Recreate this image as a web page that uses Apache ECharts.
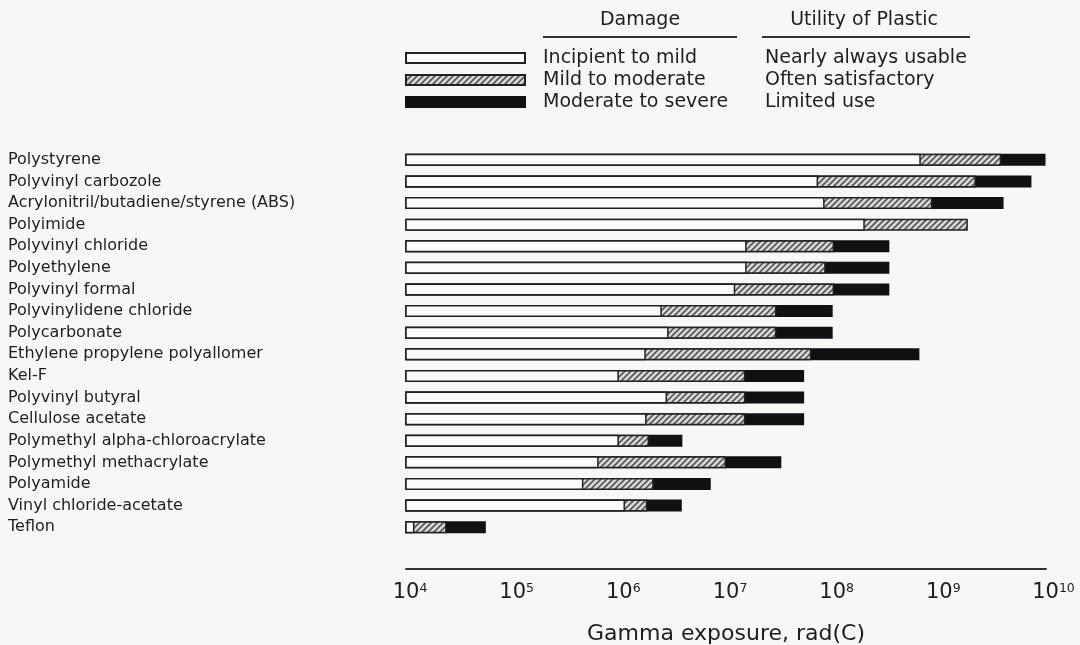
<!DOCTYPE html>
<html>
<head>
<meta charset="utf-8">
<script src="https://cdn.jsdelivr.net/npm/echarts@6/dist/echarts.min.js"></script>
<style>
html,body{margin:0;padding:0;background:#f7f7f5;}
#chart{width:1080px;height:645px;}
</style>
</head>
<body>
<div id="chart"></div>
<script>
// ---------- data ----------
const categories = [
  'Polystyrene',
  'Polyvinyl carbozole',
  'Acrylonitril/butadiene/styrene (ABS)',
  'Polyimide',
  'Polyvinyl chloride',
  'Polyethylene',
  'Polyvinyl formal',
  'Polyvinylidene chloride',
  'Polycarbonate',
  'Ethylene propylene polyallomer',
  'Kel-F',
  'Polyvinyl butyral',
  'Cellulose acetate',
  'Polymethyl alpha-chloroacrylate',
  'Polymethyl methacrylate',
  'Polyamide',
  'Vinyl chloride-acetate',
  'Teflon'
];
// exposure (rad) at which each damage band ends
const mildEnd     = [6.7e8, 7.3e7, 8.4e7, 2.0e8, 1.56e7, 1.56e7, 1.22e7, 2.5e6, 2.9e6, 1.77e6, 9.9e5, 2.8e6, 1.8e6, 9.9e5, 6.4e5, 4.6e5, 1.13e6, 1.2e4];
const moderateEnd = [3.8e9, 2.2e9, 8.6e8, 1.85e9, 1.03e8, 8.6e7, 1.03e8, 2.97e7, 2.97e7, 6.3e7, 1.52e7, 1.52e7, 1.52e7, 1.9e6, 1.0e7, 2.1e6, 1.83e6, 2.4e4];
const severeEnd   = [9.9e9, 7.3e9, 4.0e9, null, 3.4e8, 3.4e8, 3.4e8, 1.0e8, 1.0e8, 6.5e8, 5.4e7, 5.4e7, 5.4e7, 3.9e6, 3.3e7, 7.2e6, 3.85e6, 5.6e4];
const damageNames  = ['Incipient to mild', 'Mild to moderate', 'Moderate to severe'];
const utilityNames = ['Nearly always usable', 'Often satisfactory', 'Limited use'];
const headerDamage = 'Damage';
const headerUtility = 'Utility of Plastic';
const axisTitle = 'Gamma exposure, rad(C)';
const axisMin = 1e4, axisMax = 1e10;

// ---------- hatch pattern ----------
function makeHatch() {
  const c = document.createElement('canvas');
  c.width = 6; c.height = 6;
  const g = c.getContext('2d');
  g.fillStyle = '#d9d9d6';
  g.fillRect(0, 0, 6, 6);
  g.strokeStyle = '#555';
  g.lineWidth = 1.6;
  g.beginPath();
  g.moveTo(0, 6); g.lineTo(6, 0);
  g.moveTo(-1, 1); g.lineTo(1, -1);
  g.moveTo(5, 7); g.lineTo(7, 5);
  g.stroke();
  return c;
}
const hatch = { image: makeHatch(), repeat: 'repeat' };

const FONT = 'DejaVu Sans';
const TXT = '#1e1e1e';

const chart = echarts.init(document.getElementById('chart'), null, { renderer: 'canvas' });

const barCommon = {
  type: 'bar',
  barWidth: 12,
  barGap: '-100%',
  animation: false,
  silent: true
};

chart.setOption({
  backgroundColor: '#f7f7f5',
  animation: false,
  textStyle: { fontFamily: FONT, color: TXT },
  grid: { left: 406, right: 34, top: 149, height: 389, containLabel: false, outerBoundsMode: 'none' },
  legend: {
    orient: 'vertical',
    left: 405,
    top: 47,
    padding: 0,
    itemWidth: 119,
    itemHeight: 10,
    itemGap: 0,
    selectedMode: false,
    icon: 'rect',
    data: damageNames,
    formatter: function (name) {
      const i = damageNames.indexOf(name);
      return '{a|' + name + '}{b|' + utilityNames[i] + '}';
    },
    textStyle: {
      fontFamily: FONT,
      fontSize: 19,
      color: TXT,
      lineHeight: 22,
      rich: {
        a: { fontFamily: FONT, fontSize: 19, color: TXT, width: 222, padding: [0, 0, 0, 13], lineHeight: 22 },
        b: { fontFamily: FONT, fontSize: 19, color: TXT, lineHeight: 22 }
      }
    }
  },
  xAxis: {
    type: 'log',
    logBase: 10,
    min: axisMin,
    max: axisMax,
    interval: 1,
    offset: 31,
    axisLine: { show: true, lineStyle: { color: '#333', width: 2 } },
    axisTick: { show: false },
    splitLine: { show: false },
    axisLabel: {
      margin: 13,
      formatter: function (v) {
        const e = String(Math.round(Math.log10(v)));
        return '{p' + e.length + '|}{b|10}{s|' + e + '}';
      },
      rich: {
        p1: { width: 8 },
        p2: { width: 15 },
        b: { fontFamily: FONT, fontSize: 21, color: TXT },
        s: { fontFamily: FONT, fontSize: 12.5, color: TXT, verticalAlign: 'top' }
      }
    },
    name: axisTitle,
    nameLocation: 'middle',
    nameGap: 54,
    nameTextStyle: { fontFamily: FONT, fontSize: 22, color: TXT }
  },
  yAxis: {
    type: 'category',
    data: categories,
    inverse: true,
    axisLine: { show: false },
    axisTick: { show: false },
    axisLabel: {
      align: 'left',
      margin: 398,
      fontFamily: FONT,
      fontSize: 16,
      color: TXT
    }
  },
  graphic: [
    { type: 'text', x: 640, y: 20, style: { text: headerDamage, font: '19px "' + FONT + '"', fill: TXT, textAlign: 'center', textVerticalAlign: 'middle' } },
    { type: 'line', shape: { x1: 543, y1: 37, x2: 737, y2: 37 }, style: { stroke: '#333', lineWidth: 2 } },
    { type: 'text', x: 864, y: 20, style: { text: headerUtility, font: '19px "' + FONT + '"', fill: TXT, textAlign: 'center', textVerticalAlign: 'middle' } },
    { type: 'line', shape: { x1: 762, y1: 37, x2: 970, y2: 37 }, style: { stroke: '#333', lineWidth: 2 } }
  ],
  series: [
    Object.assign({}, barCommon, {
      name: damageNames[2],
      data: severeEnd,
      z: 2,
      itemStyle: { color: '#111', borderColor: '#111', borderWidth: 1.5 }
    }),
    Object.assign({}, barCommon, {
      name: damageNames[1],
      data: moderateEnd,
      z: 3,
      itemStyle: { color: hatch, borderColor: '#222', borderWidth: 1.5 }
    }),
    Object.assign({}, barCommon, {
      name: damageNames[0],
      data: mildEnd,
      z: 4,
      itemStyle: { color: '#fbfbfa', borderColor: '#222', borderWidth: 1.5 }
    })
  ]
});
</script>
</body>
</html>
